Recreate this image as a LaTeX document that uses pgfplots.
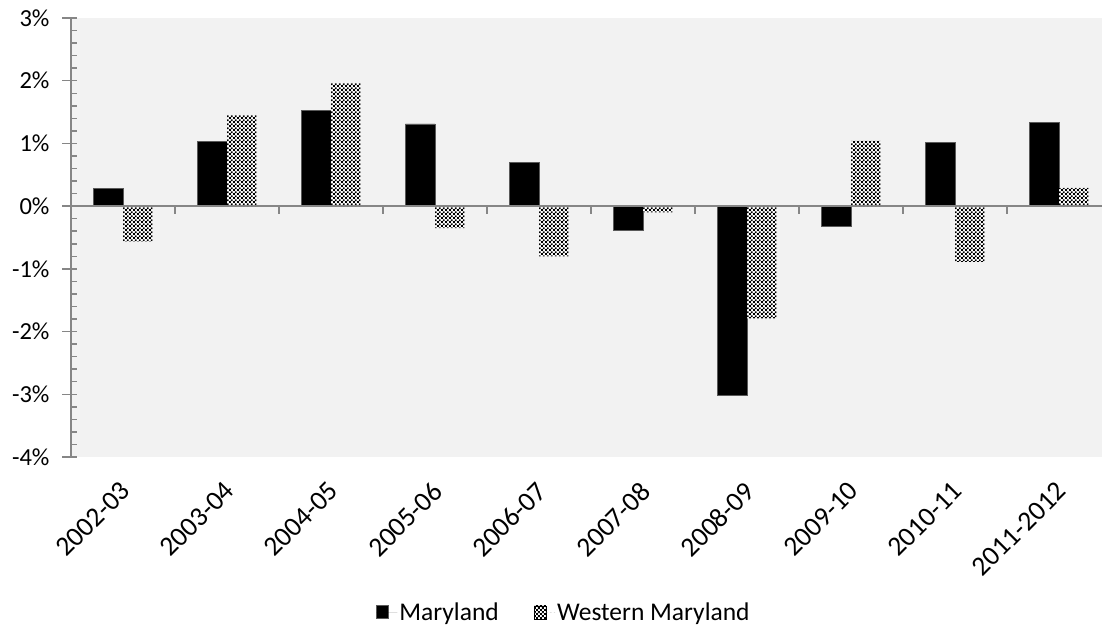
\documentclass[border=0pt]{standalone}
\usepackage{pgfplots}
\pgfplotsset{compat=1.18}
\usepackage{fontspec}
\setmainfont{Carlito}
\usetikzlibrary{patterns}

% black/white checkerboard for the second series
\pgfdeclarepatternformonly{finecheck}{\pgfpointorigin}{\pgfpoint{3.8pt}{3.8pt}}{\pgfpoint{3.8pt}{3.8pt}}{%
  \pgfpathrectangle{\pgfpointorigin}{\pgfpoint{1.9pt}{1.9pt}}%
  \pgfpathrectangle{\pgfpoint{1.9pt}{1.9pt}}{\pgfpoint{1.9pt}{1.9pt}}%
  \pgfusepath{fill}}

\definecolor{plotbg}{RGB}{242,242,242}
\definecolor{axisgray}{RGB}{134,134,134}
\definecolor{edgegray}{RGB}{89,89,89}

\begin{document}
\begin{tikzpicture}
\begin{axis}[
  scale only axis,
  width=1031pt, height=439pt,
  xmin=-0.5, xmax=9.413,
  ymin=-4, ymax=3,
  ybar=0pt, bar width=0.284,
  axis background/.style={fill=plotbg},
  axis y line*=left, axis x line*=bottom,
  x axis line style={draw=none},
  y axis line style={draw=axisgray, line width=1.5pt},
  xtick={0,...,9},
  xticklabels={2002-03,2003-04,2004-05,2005-06,2006-07,2007-08,2008-09,2009-10,2010-11,2011-2012},
  xtick style={draw=none},
  xticklabel style={rotate=45, anchor=north east, xshift=-19pt, yshift=-13.5pt, inner sep=0pt,
    font=\fontsize{27.5}{32}\selectfont},
  ytick={-4,...,3},
  minor y tick num=4,
  tick align=inside,
  major tick length=6pt, minor tick length=6pt,
  ytick style={draw=axisgray, line width=1.5pt},
  yticklabel={\pgfmathprintnumber{\tick}\%},
  yticklabel style={xshift=-18pt, font=\fontsize{24.5}{29}\selectfont},
  /pgf/number format/assume math mode=true,
  tick label style={text=black},
  legend style={at={(0.478,-0.355)}, anchor=center, draw=none, fill=none,
    font=\fontsize{25.5}{30}\selectfont, legend columns=2,
    /tikz/every even column/.append style={column sep=33pt}},
  legend image code/.code={\draw[#1] (0pt,-6pt) rectangle (12pt,7pt); \path[draw=none] (0pt,0pt) -- (21pt,0pt);},
  clip=false,
]
\addplot[fill=black, draw=edgegray, line width=0.75pt] coordinates {
  (0,0.28) (1,1.03) (2,1.53) (3,1.31) (4,0.69)
  (5,-0.38) (6,-3.02) (7,-0.33) (8,1.02) (9,1.34)};
\addlegendentry{Maryland}
\addplot[draw=none, preaction={fill=white}, pattern=finecheck, pattern color=black] coordinates {
  (0,-0.56) (1,1.45) (2,1.96) (3,-0.35) (4,-0.80)
  (5,-0.10) (6,-1.79) (7,1.04) (8,-0.89) (9,0.29)};
\addlegendentry{Western Maryland}
% zero line with category separators
\draw[axisgray, line width=1.5pt] (axis cs:-0.5,0) -- (axis cs:9.413,0);
\pgfplotsinvokeforeach{0.5,1.5,2.5,3.5,4.5,5.5,6.5,7.5,8.5}{
  \draw[axisgray, line width=1.5pt] (axis cs:#1,0) -- ++(0pt,-8pt);
}
% outer halves of the major y ticks
\pgfplotsinvokeforeach{-4,-3,-2,-1,0,1,2,3}{
  \draw[axisgray, line width=1.5pt] (axis cs:-0.5,#1) -- ++(-9pt,0pt);
}
\end{axis}
\pgfresetboundingbox
\path (-71pt,-177pt) rectangle (1031pt,457pt);
\end{tikzpicture}
\end{document}
